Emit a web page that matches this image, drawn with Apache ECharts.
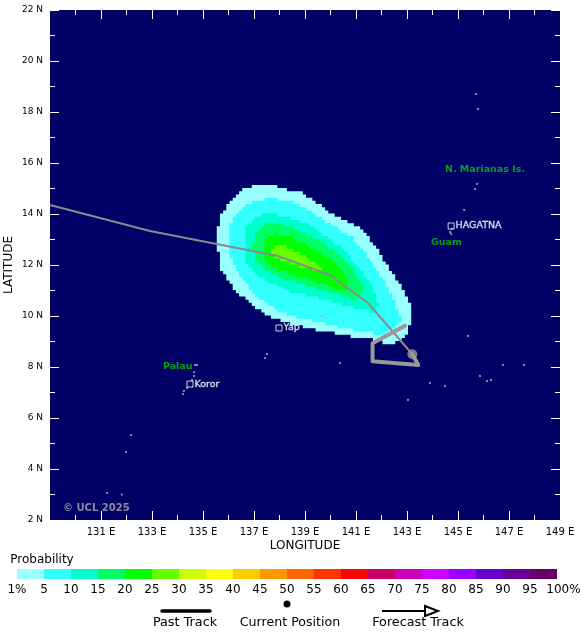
<!DOCTYPE html>
<html>
<head>
<meta charset="utf-8">
<style>
  html, body { margin: 0; padding: 0; background: #fff; }
  #chart { width: 580px; height: 639px; }
</style>
<script src="https://cdn.jsdelivr.net/npm/echarts@6/dist/echarts.min.js"></script>
</head>
<body>
<div id="chart"></div>
<script>
// probability bands, [lon, lat] outlines
const band1 = [[137.17,15.18],[137.69,15.14],[138.31,14.94],[138.80,14.87],[139.59,14.35],[140.11,13.96],[140.63,13.70],[141.16,13.44],[141.55,12.98],[141.94,12.46],[142.27,11.87],[142.59,11.41],[142.92,10.89],[143.12,10.50],[143.18,9.97],[143.05,9.32],[142.73,8.99],[142.14,8.86],[141.88,9.06],[140.96,9.16],[140.18,9.32],[139.39,9.45],[138.87,9.61],[138.08,9.78],[137.43,10.10],[136.78,10.56],[136.25,11.02],[135.73,11.80],[135.60,12.59],[135.54,13.37],[135.73,14.03],[136.06,14.48],[136.52,14.94]]
const band5 = [[136.06,13.37],[136.12,13.77],[136.52,14.22],[137.04,14.55],[137.69,14.61],[138.41,14.48],[139.06,14.22],[139.72,13.76],[140.37,13.37],[140.89,13.04],[141.35,12.46],[141.81,11.80],[142.14,11.28],[142.46,10.63],[142.59,10.23],[142.79,9.84],[142.53,9.58],[142.20,9.32],[141.74,9.32],[140.96,9.45],[140.18,9.61],[139.39,9.82],[138.61,9.97],[137.89,10.24],[137.30,10.63],[136.78,11.15],[136.45,11.54],[136.12,12.20],[136.03,12.78]]
const band10 = [[136.65,13.11],[136.71,13.50],[137.04,13.89],[137.56,14.03],[138.41,13.83],[139.19,13.57],[139.85,13.11],[140.50,12.59],[141.02,12.00],[141.55,11.28],[141.81,10.76],[141.87,10.37],[141.74,10.17],[141.09,10.30],[140.31,10.50],[139.39,10.76],[138.48,10.95],[137.69,11.28],[137.04,11.67],[136.65,12.20]]
const band15 = [[136.97,12.85],[137.04,13.24],[137.37,13.57],[137.82,13.66],[138.41,13.50],[139.06,13.18],[139.72,12.85],[140.37,12.39],[140.89,11.80],[141.22,11.21],[141.29,10.85],[140.85,10.63],[140.70,10.76],[139.91,10.95],[139.00,11.22],[138.15,11.48],[137.50,11.80],[137.10,12.13],[136.97,12.59]]
const band20 = [[137.37,12.59],[137.43,12.98],[137.76,13.24],[138.41,13.11],[139.06,12.78],[139.72,12.39],[140.31,12.00],[140.63,11.48],[140.63,11.02],[140.50,10.99],[140.05,11.15],[139.26,11.41],[138.41,11.67],[137.69,11.93],[137.37,12.26]]
const band25 = [[137.67,12.59],[137.82,12.82],[138.15,12.82],[138.41,12.65],[138.80,12.46],[139.32,12.13],[139.65,11.80],[139.39,11.80],[138.67,12.00],[138.02,12.20],[137.76,12.35]]
const bands = [band1, band5, band10, band15, band20, band25]

const colors = ['#99ffff','#33ffff','#00ffcc','#00ff66','#00ff00','#66ff00','#ccff00','#ffff00','#ffcc00','#ff9900','#ff6600','#ff3300','#ff0000','#cc0066','#cc00bb','#cc00ff','#9900ff','#6600cc','#660099','#660066']
const scaleLabels = ['1%','5','10','15','20','25','30','35','40','45','50','55','60','65','70','75','80','85','90','95','100%']
const scaleTicks = [0,1,2,3,4,5,6,7,8,9,10,11,12,13,14,15,16,17,18,19,20.24]

const pastTrack = [[129,14.35],[132.92,13.33],[137.95,12.35],[139.98,11.61],[141.48,10.50],[143.21,8.50]]
const forecastTrack = [[142.92,9.62],[141.65,8.93],[141.65,8.23],[143.44,8.08],[143.21,8.50]]
const currentPos = [[143.21,8.50]]

const land = [[145.71,18.71],[145.78,18.12],[145.75,15.18],[145.67,14.98],[145.24,14.16],[144.69,13.29],[144.76,13.41],[144.73,13.22],[145.39,9.22],[143.90,7.37],[144.49,7.25],[143.04,6.71],[145.86,7.65],[146.14,7.45],[146.29,7.49],[146.76,8.08],[147.59,8.08],[140.37,8.16],[137.51,8.51],[137.43,8.35],[139.67,10.0],[139.82,9.92],[140.53,9.76],[132.18,5.33],[131.98,4.67],[131.82,3.0],[131.24,3.06],[134.69,8.08],[134.65,7.65],[134.65,7.8],[134.57,7.49],[134.37,7.18],[134.25,7.06],[134.22,6.94],[134.76,8.08]]
const towns = [[137.98,9.53,'Yap'],[144.73,13.53,'HAGATNA'],[134.49,7.33,'Koror']]
const regions = [[144.49,15.76,'N. Marianas Is.'],[143.94,12.90,'Guam'],[133.43,8.0,'Palau']]

const lonMajor = [131,133,135,137,139,141,143,145,147,149]
const lonMinor = [130,132,134,136,138,140,142,144,146,148]
const latMajor = [2,4,6,8,10,12,14,16,18,20,22]
const latMinor = [3,5,7,9,11,13,15,17,19,21]

const font = 'DejaVu Sans'
const myChart = echarts.init(document.getElementById('chart'), null, { renderer: 'canvas' })

// ticks sit inside the map on all four sides, long ones and short ones
function tickAxis(kind, position, values, len, extra) {
    const range = kind === 'x' ? { min: 129, max: 149 } : { min: 2, max: 22 }
    return Object.assign({
        type: 'value', gridIndex: 0, position: position,
        min: range.min, max: range.max, interval: 1,
        axisLine: { show: false }, splitLine: { show: false },
        axisTick: { show: true, inside: true, length: len, customValues: values, lineStyle: { color: '#fff', width: 1 } },
        axisLabel: { show: false }
    }, extra)
}

const xAxes = [
    tickAxis('x', 'bottom', lonMajor, 9, {
        name: 'LONGITUDE', nameLocation: 'middle', nameGap: 20, nameMoveOverlap: false,
        nameTextStyle: { fontFamily: font, fontSize: 12, color: '#000' },
        axisLabel: { show: true, customValues: lonMajor, margin: 7, fontFamily: font, fontSize: 10, color: '#000', formatter: v => v + ' E' }
    }),
    tickAxis('x', 'bottom', lonMinor, 5),
    tickAxis('x', 'top', lonMajor, 9),
    tickAxis('x', 'top', lonMinor, 5),
    { type: 'value', gridIndex: 1, min: 0, max: 21, interval: 1, position: 'bottom',
      axisLine: { show: false }, axisTick: { show: false }, splitLine: { show: false },
      axisLabel: { customValues: scaleTicks, margin: 5, fontFamily: font, fontSize: 12, color: '#000', formatter: v => scaleLabels[Math.floor(v)] } }
]
const yAxes = [
    tickAxis('y', 'left', latMajor, 9, {
        name: 'LATITUDE', nameLocation: 'middle', nameGap: 35, nameMoveOverlap: false,
        nameTextStyle: { fontFamily: font, fontSize: 12, color: '#000' },
        axisLabel: { show: true, customValues: latMajor, margin: 7, fontFamily: font, fontSize: 9, color: '#000', formatter: v => v + ' N' }
    }),
    tickAxis('y', 'left', latMinor, 5),
    tickAxis('y', 'right', latMajor, 9),
    tickAxis('y', 'right', latMinor, 5),
    { type: 'value', gridIndex: 1, min: 0, max: 1, show: false }
]

// the source field is gridded at 1/8 degree, so snap outlines to that raster
function stairs(points, cell) {
    const out = []
    const snap = v => Math.round(v / cell) * cell
    points.forEach((p, i) => {
        const q = points[(i + 1) % points.length]
        const n = Math.ceil(Math.hypot(q[0] - p[0], q[1] - p[1]))
        for (let k = 0; k < n; k++) {
            const x = snap(p[0] + (q[0] - p[0]) * k / n)
            const y = snap(p[1] + (q[1] - p[1]) * k / n)
            const last = out[out.length - 1]
            if (last && last[0] !== x && last[1] !== y) out.push([x, last[1]])
            out.push([x, y])
        }
    })
    return out
}

function legendText(x, y, text, size) {
    return { type: 'text', x: x, y: y, style: { text: text, fill: '#000', font: size + 'px "' + font + '"', align: 'center', verticalAlign: 'middle' } }
}

myChart.setOption({
    animation: false,
    backgroundColor: '#fff',
    grid: [
        { left: 50, top: 10, width: 510, height: 510, show: true, backgroundColor: '#000066', borderWidth: 0, outerBoundsMode: 'none' },
        { left: 17, top: 569, width: 567, height: 10, outerBoundsMode: 'none' }
    ],
    xAxis: xAxes,
    yAxis: yAxes,
    series: [
        {
            type: 'custom', xAxisIndex: 0, yAxisIndex: 0, silent: true, z: 2,
            data: bands.map((b, i) => [i]),
            renderItem: function (params, api) {
                const i = api.value(0)
                return { type: 'polygon', shape: { points: stairs(bands[i].map(p => api.coord(p)), 3.1875) }, style: { fill: colors[i] } }
            }
        },
        {
            type: 'scatter', xAxisIndex: 0, yAxisIndex: 0, silent: true, z: 3,
            data: land, symbol: 'rect', symbolSize: 2, itemStyle: { color: '#b0b0b0' }
        },
        {
            type: 'line', xAxisIndex: 0, yAxisIndex: 0, silent: true, z: 4,
            data: pastTrack, symbol: 'none', lineStyle: { color: '#8a8a8a', width: 2 }
        },
        {
            type: 'line', xAxisIndex: 0, yAxisIndex: 0, silent: true, z: 4,
            data: forecastTrack, symbol: 'none', lineStyle: { color: '#999', width: 4, cap: 'round', join: 'round' }
        },
        {
            type: 'scatter', xAxisIndex: 0, yAxisIndex: 0, silent: true, z: 5,
            data: currentPos, symbol: 'circle', symbolSize: 10, itemStyle: { color: '#999' }
        },
        {
            type: 'scatter', xAxisIndex: 0, yAxisIndex: 0, silent: true, z: 6,
            data: towns, symbol: 'rect', symbolSize: 6,
            itemStyle: { color: 'rgba(0,0,0,0)', borderColor: '#fff', borderWidth: 1 },
            label: { show: true, position: 'right', distance: 1, color: '#fff', textBorderColor: '#fff', textBorderWidth: 0.3, fontFamily: font, fontSize: 9.5, formatter: p => p.value[2] }
        },
        {
            type: 'scatter', xAxisIndex: 0, yAxisIndex: 0, silent: true, z: 6,
            data: regions, symbol: 'rect', symbolSize: 0,
            label: { show: true, position: 'right', distance: 0, color: '#00cc00', fontFamily: font, fontWeight: 'bold', fontSize: 9.5, formatter: p => p.value[2] }
        },
        {
            type: 'custom', xAxisIndex: 4, yAxisIndex: 4, silent: true,
            data: colors.map((c, i) => [i]),
            renderItem: function (params, api) {
                const i = api.value(0)
                const a = api.coord([i, 1])
                const b = api.coord([i + 1, 0])
                return { type: 'rect', shape: { x: a[0], y: a[1], width: b[0] - a[0], height: b[1] - a[1] }, style: { fill: colors[i] } }
            }
        }
    ],
    graphic: [
        { type: 'text', x: 63, y: 508, z: 10, style: { text: '© UCL 2025', fill: '#8a8a9a', font: 'bold 10px "' + font + '"', align: 'left', verticalAlign: 'middle' } },
        legendText(42, 560, 'Probability', 12),
        { type: 'line', shape: { x1: 162, y1: 611, x2: 210, y2: 611 }, style: { stroke: '#000', lineWidth: 3.5, lineCap: 'round' } },
        legendText(185, 623, 'Past Track', 12.8),
        { type: 'circle', shape: { cx: 287, cy: 604, r: 3.5 }, style: { fill: '#000' } },
        legendText(290, 623, 'Current Position', 12.6),
        { type: 'line', shape: { x1: 382, y1: 611, x2: 425, y2: 611 }, style: { stroke: '#000', lineWidth: 2 } },
        { type: 'polygon', shape: { points: [[425, 606], [438, 611], [425, 616]] }, style: { fill: 'none', stroke: '#000', lineWidth: 2 } },
        legendText(418, 623, 'Forecast Track', 12.8)
    ]
})
</script>
</body>
</html>
